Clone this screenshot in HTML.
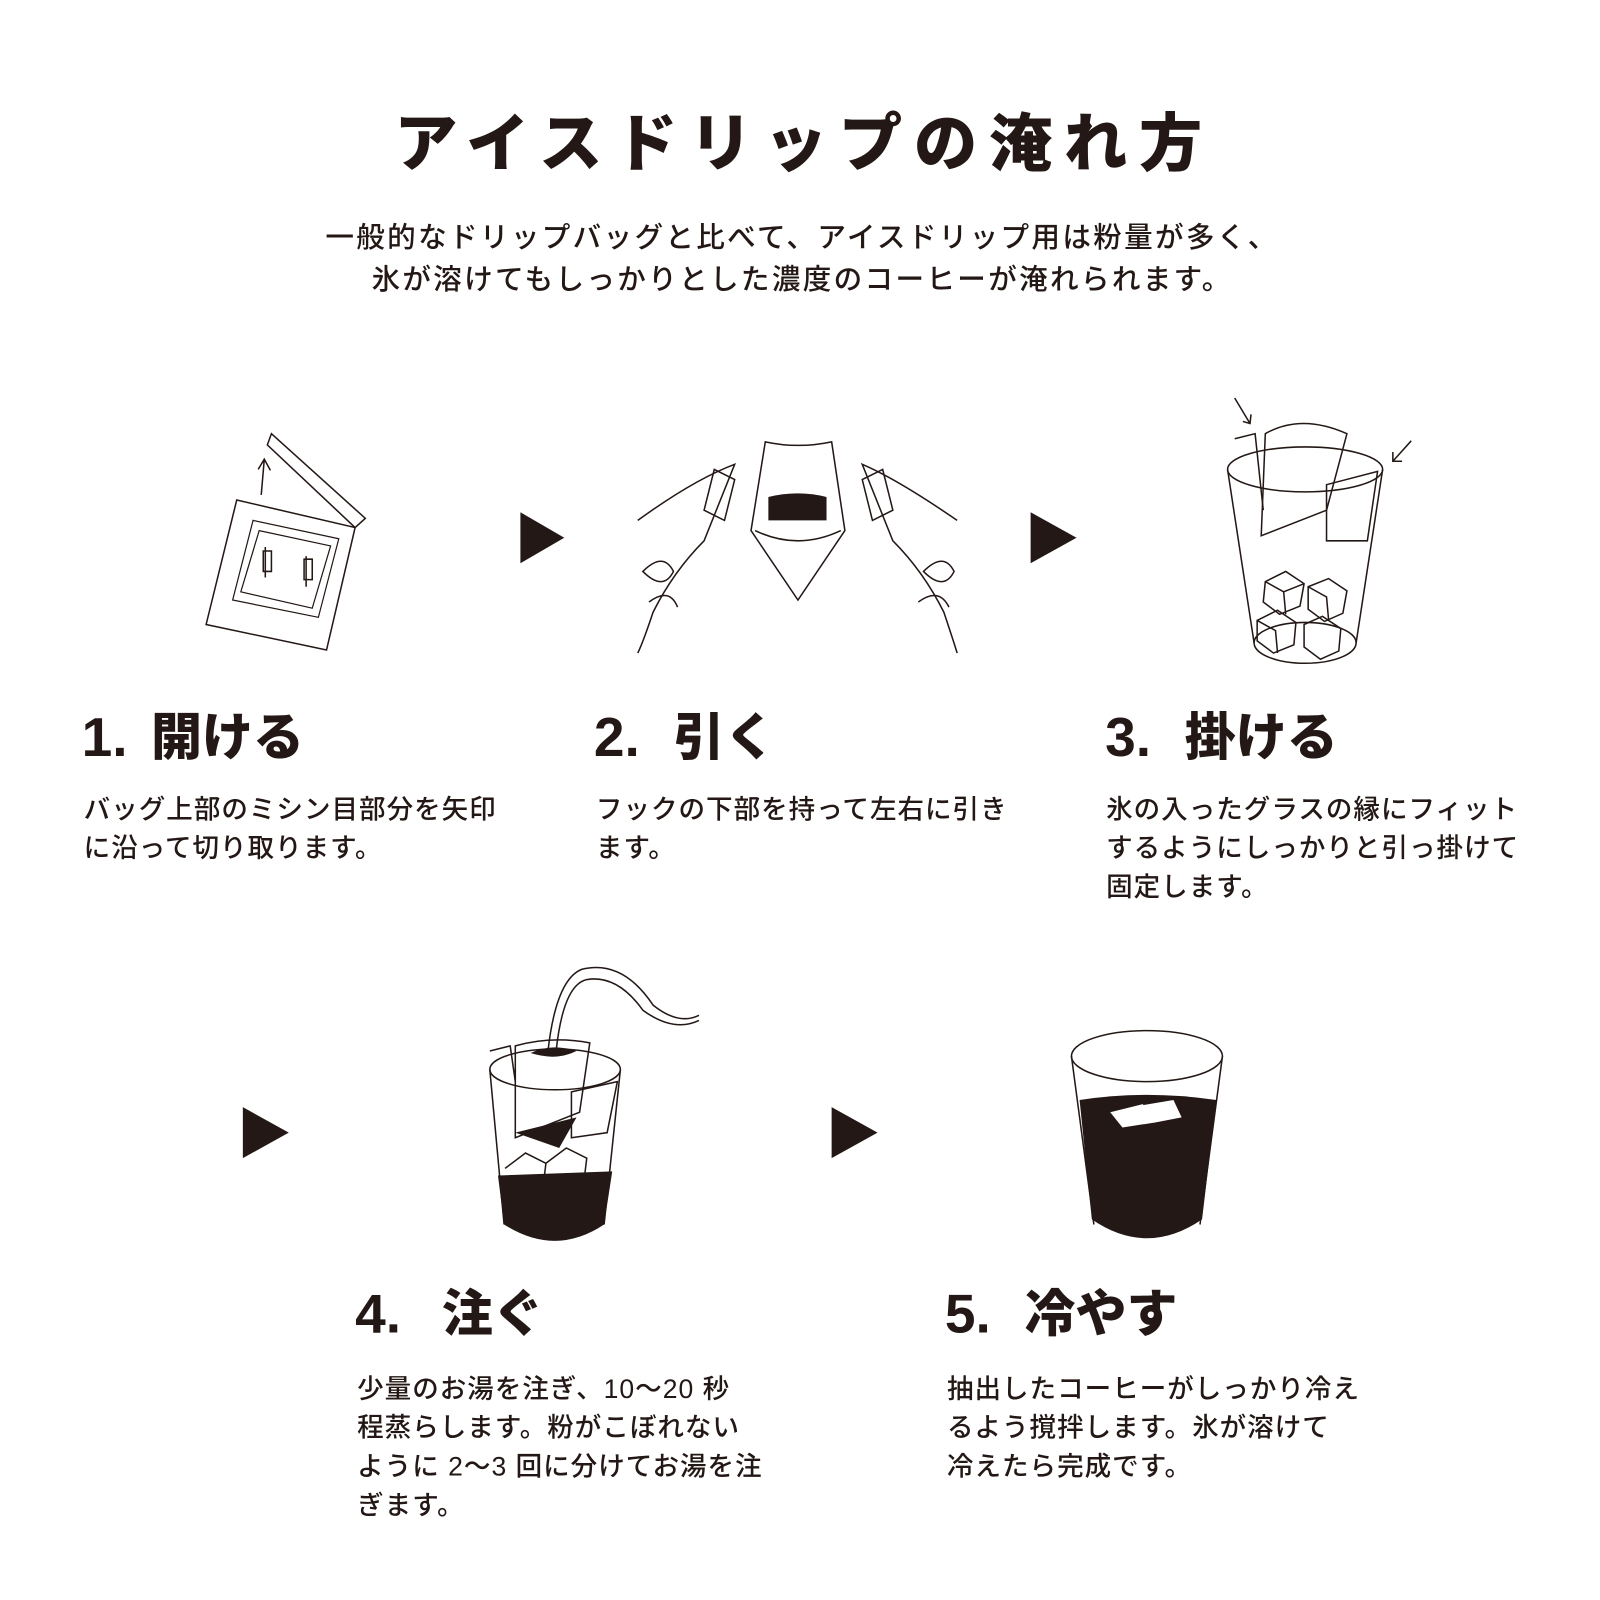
<!DOCTYPE html>
<html><head><meta charset="utf-8"><style>
html,body{margin:0;padding:0;background:#fff;}
svg{display:block}
text{font-family:"Liberation Sans","Noto Sans CJK JP",sans-serif;fill:#231815}
</style></head><body>
<svg width="1600" height="1600" viewBox="0 0 1568 1568" xmlns="http://www.w3.org/2000/svg">
<text x="788" y="162" text-anchor="middle" font-size="62" font-weight="900" letter-spacing="11.5">アイスドリップの淹れ方</text>
<text x="786" y="242" text-anchor="middle" font-size="28" font-weight="500" letter-spacing="2.3">一般的なドリップバッグと比べて、アイスドリップ用は粉量が多く、</text>
<text x="786" y="283" text-anchor="middle" font-size="28" font-weight="500" letter-spacing="2.3">氷が溶けてもしっかりとした濃度のコーヒーが淹れられます。</text>

<g fill="#231815">
<polygon points="510,502 553,527 510,552"/>
<polygon points="1010,502 1055,527 1010,552"/>
<polygon points="238,1085 283,1110 238,1135"/>
<polygon points="815,1085 860,1110 815,1135"/>
</g>

<g fill="none" stroke="#231815" stroke-width="1.5">
<polygon points="232,490 348,517 320,637 202,612"/>
<polygon points="266,425 358,508 348,517 262,436"/>
<path d="M248,510 L332,528 L312,605 L228,588 Z" stroke-width="1.2"/>
<path d="M254,520 L324,535 L306,596 L236,580 Z" stroke-width="1.2"/>
<path d="M260,536 v30 M300,545 v30 M258,540 h8 v20 h-8z M298,548 h8 v20 h-8z"/>
<path d="M256,485 L259,450 M253,460 L259,450 L265,461"/>
<path d="M750,433 Q782,440 815,433 L828,520 L782,588 L736,520 Z"/>
<path d="M740,520 Q782,540 824,520"/>
<path d="M625,510 Q680,470 720,455 L690,530 Q660,560 640,600 Q630,630 625,640"/>
<path d="M938,510 Q880,470 845,455 L875,530 Q905,560 925,600 Q935,630 938,640"/>
<path d="M630,560 q20,-20 30,0 q-10,20 -30,0z M636,590 q20,-15 28,5 M905,560 q20,-20 30,0 q-10,20 -30,0z M900,590 q20,-15 30,5"/>
<path d="M700,460 L720,470 L710,510 L690,500 Z M865,460 L845,470 L855,510 L875,500 Z"/>
<ellipse cx="1279" cy="460" rx="76" ry="22"/>
<ellipse cx="1279" cy="630" rx="50" ry="20"/>
<line x1="1203" y1="460" x2="1229" y2="630"/>
<line x1="1355" y1="460" x2="1329" y2="630"/>
<path d="M1240,425 Q1275,405 1320,425 L1300,500 L1236,525 Z"/>
<path d="M1210,430 L1230,425 L1238,500 M1300,475 L1350,462 L1340,530 L1300,530 Z"/>
<path d="M1240,570 l20,-10 l18,12 l-4,22 l-20,8 l-16,-12z M1240,570 l18,10 l2,22 M1258,580 l20,-8"/>
<path d="M1282,575 l20,-8 l18,12 l-4,22 l-18,8 l-16,-12z M1282,575 l18,10 l2,22"/>
<path d="M1232,608 l20,-10 l18,12 l-2,22 l-20,8 l-16,-12z M1232,608 l18,10 l2,22"/>
<path d="M1278,612 l18,-8 l18,12 l-2,22 l-18,8 l-16,-12z"/>
<path d="M1210,390 L1225,415 M1218,413 L1225,415 L1226,406 M1383,432 L1365,452 M1365,443 L1365,452 L1374,452"/>
<ellipse cx="544" cy="1048" rx="64" ry="20"/>
<line x1="480" y1="1048" x2="494" y2="1200"/>
<line x1="608" y1="1048" x2="592" y2="1200"/>
<path d="M505,1025 Q540,1015 578,1022 L568,1090 L505,1115 Z"/>
<path d="M480,1030 L500,1025 L505,1060 M560,1070 L605,1060 L595,1110 L560,1115 Z"/>
<path d="M537,1030 Q545,960 570,950 Q610,940 640,985 Q665,1005 685,995"/>
<path d="M545,1030 Q552,965 575,960 Q605,955 630,990 Q660,1012 685,1000"/>
<path d="M495,1145 l20,-15 l20,10 l-3,25 M535,1140 l20,-15 l20,10 l-3,25"/>
</g>
<g fill="#231815">
<path d="M520,1032 Q540,1022 565,1030 Q545,1040 520,1032z"/>
<path d="M505,1110 L565,1095 L548,1125 Z"/>
<path d="M488,1152 L600,1148 L592,1200 Q544,1232 494,1200 Z"/>
<path d="M753,487 Q782,480 810,487 L810,510 L753,510 Z"/>
<path d="M1058,1078 Q1124,1068 1192,1078 L1178,1195 Q1124,1232 1070,1195 Z"/>
</g>
<g fill="none" stroke="#231815" stroke-width="1.5">
<ellipse cx="1124" cy="1035" rx="74" ry="25"/>
<line x1="1050" y1="1035" x2="1072" y2="1200"/>
<line x1="1198" y1="1035" x2="1176" y2="1200"/>
</g>
<path d="M1088,1090 L1120,1082 L1132,1100 L1100,1105 Z M1120,1083 L1150,1078 L1158,1095 L1132,1100 Z" fill="#fff"/>

<g font-weight="900">
<g font-size="54"><text x="80" y="741">1.</text><text x="582" y="741">2.</text><text x="1083" y="741">3.</text><text x="348" y="1306">4.</text><text x="926" y="1306">5.</text></g>
<g font-size="50"><text x="148" y="740">開ける</text><text x="660" y="740">引く</text><text x="1161" y="740">掛ける</text><text x="433" y="1305">注ぐ</text><text x="1004" y="1305">冷やす</text></g>
</g>
<g font-size="26" font-weight="500" letter-spacing="1">
<text x="82" y="802">バッグ上部のミシン目部分を矢印</text>
<text x="82" y="840">に沿って切り取ります。</text>
<text x="584" y="802">フックの下部を持って左右に引き</text>
<text x="584" y="840">ます。</text>
<text x="1084" y="802">氷の入ったグラスの縁にフィット</text>
<text x="1084" y="840">するようにしっかりと引っ掛けて</text>
<text x="1084" y="878">固定します。</text>
<text x="350" y="1370">少量のお湯を注ぎ、10〜20 秒</text>
<text x="350" y="1408">程蒸らします。粉がこぼれない</text>
<text x="350" y="1446">ように 2〜3 回に分けてお湯を注</text>
<text x="350" y="1484">ぎます。</text>
<text x="928" y="1370">抽出したコーヒーがしっかり冷え</text>
<text x="928" y="1408">るよう撹拌します。氷が溶けて</text>
<text x="928" y="1446">冷えたら完成です。</text>
</g>
</svg>
</body></html>
